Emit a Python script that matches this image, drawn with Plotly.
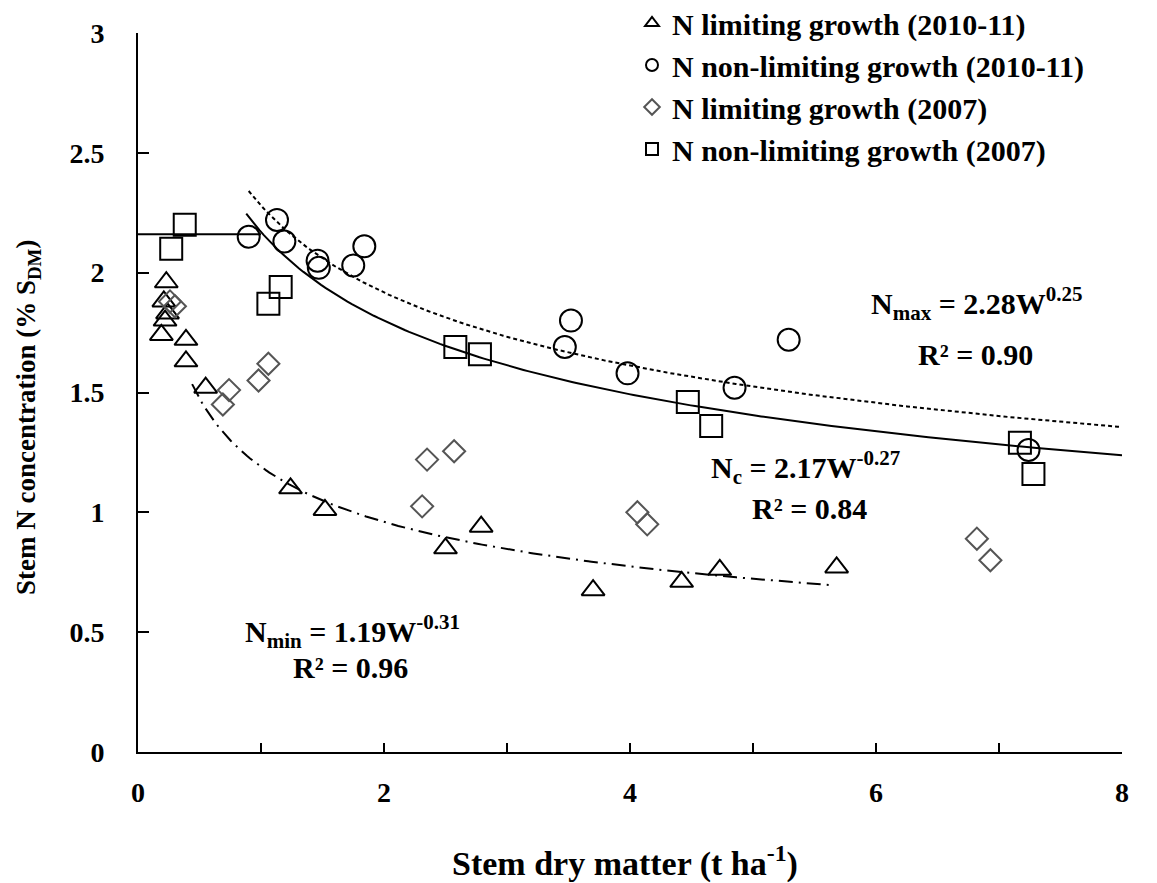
import numpy as np
import plotly.graph_objects as go

# ---------------- data ----------------
tri_x = [0.23, 0.21, 0.24, 0.22, 0.19, 0.39, 0.39, 0.55, 1.24, 1.52, 2.50, 2.79, 3.70, 4.42, 4.73, 5.68]
tri_y = [1.96, 1.88, 1.83, 1.80, 1.74, 1.72, 1.63, 1.52, 1.10, 1.01, 0.85, 0.94, 0.675, 0.71, 0.76, 0.77]

cir_x = [0.90, 1.13, 1.19, 1.46, 1.47, 1.75, 1.84, 3.52, 3.47, 3.98, 4.85, 5.29, 7.24]
cir_y = [2.15, 2.22, 2.13, 2.05, 2.02, 2.03, 2.11, 1.80, 1.69, 1.58, 1.52, 1.72, 1.26]

dia_x = [0.26, 0.30, 0.69, 0.74, 0.98, 1.06, 2.31, 2.35, 2.57, 4.06, 4.14, 6.82, 6.93]
dia_y = [1.88, 1.86, 1.45, 1.51, 1.55, 1.62, 1.025, 1.22, 1.255, 1.00, 0.95, 0.89, 0.80]

sq_x = [0.27, 0.38, 1.06, 1.16, 2.58, 2.78, 4.47, 4.66, 7.17, 7.28]
sq_y = [2.10, 2.20, 1.87, 1.94, 1.69, 1.66, 1.46, 1.36, 1.29, 1.16]

# fitted power curves  N = a * W^b  (coefficients printed on the chart)
nmax_a, nmax_b, nmax_range = 2.28, -0.25, (0.90, 8.0)
nc_a, nc_b, nc_range = 2.17, -0.27, (0.88, 8.0)
nc_flat, nc_flat_range = 2.16, (0.0, 1.0)
nmin_a, nmin_b, nmin_range = 1.19, -0.31, (0.44, 5.65)

x_ticks = [0, 2, 4, 6, 8]
x_ticktext = ["0", "2", "4", "6", "8"]
y_ticks = [0, 0.5, 1, 1.5, 2, 2.5, 3]
y_ticktext = ["0", "0.5", "1", "1.5", "2", "2.5", "3"]

legend_names = ["N limiting growth (2010-11)", "N non-limiting growth (2010-11)",
                "N limiting growth (2007)", "N non-limiting growth (2007)"]

FONT = "Liberation Serif"

def curve(a, b, rng):
    w = np.linspace(rng[0], rng[1], 200)
    return w, a * w ** b

fig = go.Figure()

# curves
w, n = curve(nmax_a, nmax_b, nmax_range)
fig.add_trace(go.Scatter(x=w, y=n, mode="lines", showlegend=False,
                         line=dict(color="black", width=2, dash="4px,3px"), hoverinfo="skip"))
w, n = curve(nc_a, nc_b, nc_range)
fig.add_trace(go.Scatter(x=w, y=n, mode="lines", showlegend=False,
                         line=dict(color="black", width=2), hoverinfo="skip"))
fig.add_trace(go.Scatter(x=list(nc_flat_range), y=[nc_flat, nc_flat], mode="lines", showlegend=False,
                         line=dict(color="black", width=2), hoverinfo="skip"))
w, n = curve(nmin_a, nmin_b, nmin_range)
fig.add_trace(go.Scatter(x=w, y=n, mode="lines", showlegend=False,
                         line=dict(color="black", width=2, dash="14px,6px,2px,6px"), hoverinfo="skip"))

# points
fig.add_trace(go.Scatter(x=tri_x, y=tri_y, mode="markers", name=legend_names[0],
                         marker=dict(symbol="triangle-up-open", size=20, color="black",
                                     line=dict(width=2, color="black"))))
fig.add_trace(go.Scatter(x=cir_x, y=cir_y, mode="markers", name=legend_names[1],
                         marker=dict(symbol="circle-open", size=22, color="black",
                                     line=dict(width=2, color="black"))))
fig.add_trace(go.Scatter(x=dia_x, y=dia_y, mode="markers", name=legend_names[2],
                         marker=dict(symbol="diamond-open", size=17, color="#555555",
                                     line=dict(width=2, color="#555555"))))
fig.add_trace(go.Scatter(x=sq_x, y=sq_y, mode="markers", name=legend_names[3],
                         marker=dict(symbol="square-open", size=22, color="black",
                                     line=dict(width=2, color="black"))))

# plot frame in reference pixels (used to place text)
X0, X1, Y0, Y1 = 138, 1122, 752, 33

ann_font = dict(family=FONT, size=30, color="black", weight="bold")
eq_annotations = [
    dict(x=977, y=303, text="N<sub>max</sub> = 2.28W<sup>0.25</sup>"),
    dict(x=975, y=354, text="R² = 0.90"),
    dict(x=805, y=467, text="N<sub>c</sub> = 2.17W<sup>-0.27</sup>"),
    dict(x=809, y=508, text="R² = 0.84"),
    dict(x=352, y=631, text="N<sub>min</sub> = 1.19W<sup>-0.31</sup>"),
    dict(x=350, y=667, text="R² = 0.96"),
]
annotations = []
for a in eq_annotations:
    annotations.append(dict(x=(a["x"] - X0) / (X1 - X0) * 8, y=(Y0 - a["y"]) / (Y0 - Y1) * 3,
                            text=a["text"], xref="x", yref="y", showarrow=False, font=ann_font,
                            xanchor="center", yanchor="middle"))

# axis titles
annotations.append(dict(x=(625 - X0) / (X1 - X0), y=(Y0 - 862) / (Y0 - Y1),
                        xref="paper", yref="paper", showarrow=False,
                        xanchor="center", yanchor="middle",
                        text="Stem dry matter (t ha<sup>-1</sup>)",
                        font=dict(family=FONT, size=34, color="black", weight="bold")))
annotations.append(dict(x=(28 - X0) / (X1 - X0), y=(Y0 - 418) / (Y0 - Y1),
                        xref="paper", yref="paper", showarrow=False, textangle=-90,
                        xanchor="center", yanchor="middle",
                        text="Stem N concentration (% S<sub>DM</sub>)",
                        font=dict(family=FONT, size=27, color="black", weight="bold")))

# page body has an 8px margin, so shift the frame to keep the reference pixel positions
OFF = 8
fig.update_layout(
    width=1157 - OFF, height=883 - OFF,
    paper_bgcolor="white", plot_bgcolor="white",
    margin=dict(l=X0 - OFF, r=1157 - X1, t=Y1 - OFF, b=883 - Y0, autoexpand=False),
    font=dict(family=FONT, color="black"),
    annotations=annotations,
    legend=dict(x=(632 - X0) / (X1 - X0), y=(Y0 + 3) / (Y0 - Y1), xanchor="left", yanchor="top",
                font=dict(family=FONT, size=30, color="black", weight="bold"),
                itemsizing="constant", bgcolor="rgba(0,0,0,0)", tracegroupgap=0,
                itemwidth=30),
    xaxis=dict(range=[0, 8], tickvals=x_ticks, ticktext=x_ticktext,
               ticks="inside", ticklen=9, tickwidth=2, tickcolor="black",
               minor=dict(dtick=1, tick0=0, ticks="inside", ticklen=9, tickwidth=2,
                          tickcolor="black", showgrid=False),
               showline=True, linecolor="black", linewidth=2, showgrid=False, zeroline=False,
               ticklabelstandoff=14,
               tickfont=dict(family=FONT, size=28, weight="bold")),
    yaxis=dict(range=[0, 3], tickvals=y_ticks, ticktext=y_ticktext,
               ticks="inside", ticklen=11, tickwidth=2, tickcolor="black",
               showline=True, linecolor="black", linewidth=2, showgrid=False, zeroline=False,
               ticklabelstandoff=26,
               tickfont=dict(family=FONT, size=28, weight="bold")),
)

fig.write_html("out.html")
